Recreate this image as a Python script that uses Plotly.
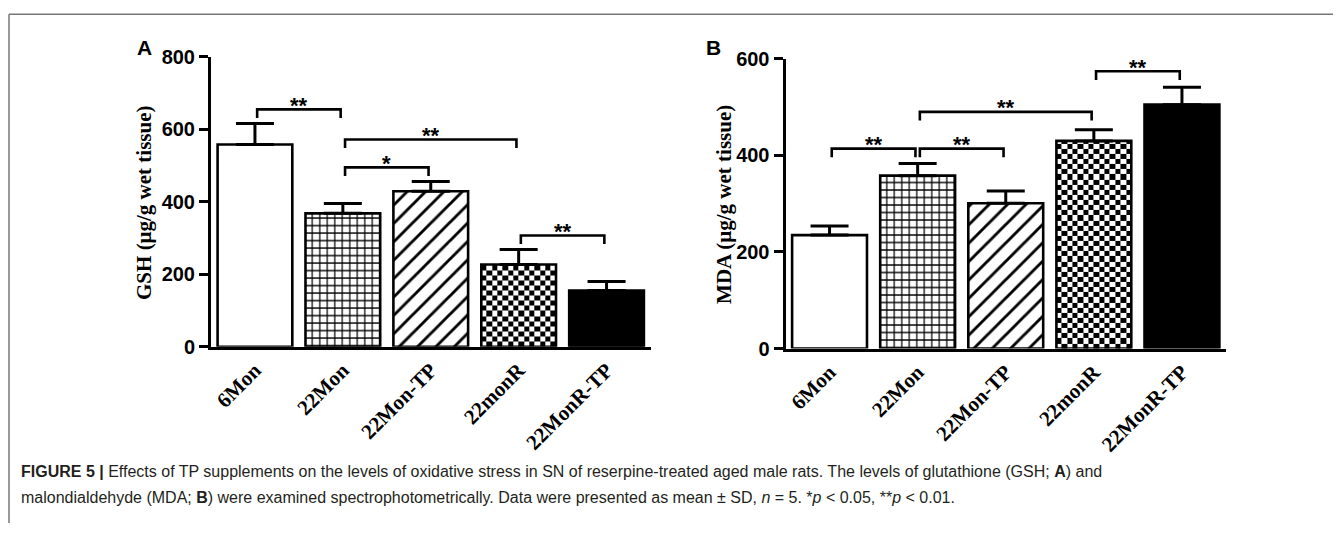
import plotly.graph_objects as go

# ---------------- data ----------------
categories = ["6Mon", "22Mon", "22Mon-TP", "22monR", "22MonR-TP"]
gsh_mean = [558, 368, 429, 227, 155]
gsh_sd = [58, 27, 27, 41, 25]
mda_mean = [235, 358, 301, 430, 505]
mda_sd = [19, 25, 25, 23, 36]
gsh_ticks = [0, 200, 400, 600, 800]
mda_ticks = [0, 200, 400, 600]
# (group a, group b, bracket level, label)
gsh_brackets = [(0, 1, 655, "**"), (1, 3, 572, "**"), (1, 2, 495, "*"), (3, 4, 307, "**")]
mda_brackets = [(0, 1, 414, "**"), (1, 2, 414, "**"), (1, 3, 490, "**"), (3, 4, 574, "**")]

# ---------------- layout constants (page pixels) ----------------
OFF = 8                      # default body margin of the html page
W, H = 1341 - 2 * OFF, 542 - 2 * OFF   # keep the page free of scrollbars
BAR_W = 0.85
A_dom_px = (211, 650.5, 47.5, 350)    # x0, x1, ytop, ybottom in page px
B_dom_px = (785.5, 1226, 49.5, 352)


def px(x):
    return (x - OFF) / W


def py(y):
    return 1 - (y - OFF) / H


def xdom(d):
    return [px(d[0]), px(d[1])]


def ydom(d):
    return [py(d[3]), py(d[2])]


fig = go.Figure()

fill_colors = ["white", "white", "white", "rgba(0,0,0,0)", "black"]
pat_shapes = ["", "+", "/", "", ""]
pat_sizes = [8, 7.5, 13, 8, 8]
pat_solid = [0.3, 0.3, 0.22, 0.3, 0.3]


def add_panel(means, sds, brackets, ymax, dom, xa, ya):
    px_per_x = (dom[1] - dom[0]) / len(categories)
    px_per_y = (dom[3] - dom[2]) / ymax
    # checkerboard texture for the 22monR bar
    i = 3
    ncols = 14
    cell_px = BAR_W * px_per_x / ncols
    cell_h = cell_px / px_per_y
    x_edges = [i - BAR_W / 2 + k * BAR_W / ncols for k in range(ncols + 1)]
    y_edges = [0.0]
    while y_edges[-1] + cell_h < means[i]:
        y_edges.append(y_edges[-1] + cell_h)
    y_edges.append(means[i])
    z = [[(r + c) % 2 for c in range(ncols)] for r in range(len(y_edges) - 1)]
    fig.add_trace(go.Heatmap(x=x_edges, y=y_edges, z=z, zmin=0, zmax=1,
                             colorscale=[[0, "white"], [1, "black"]], showscale=False,
                             hoverinfo="skip", xaxis=xa, yaxis=ya))
    for k, cat in enumerate(categories):
        marker = dict(color=fill_colors[k], line=dict(color="black", width=2.6))
        if pat_shapes[k]:
            marker["pattern"] = dict(shape=pat_shapes[k], size=pat_sizes[k],
                                     solidity=pat_solid[k], fgcolor="black",
                                     bgcolor="white", fillmode="replace")
        fig.add_trace(go.Bar(
            x=[k], y=[means[k]], width=BAR_W, xaxis=xa, yaxis=ya, name=cat,
            marker=marker,
            error_y=dict(type="data", array=[sds[k]], arrayminus=[0], symmetric=False,
                         color="black", thickness=3, width=19),
            showlegend=False))
    drop = 9 / px_per_y
    inset = 0.025
    bx, by = [], []
    for a, b, lvl, lab in brackets:
        bx += [a + inset, a + inset, b - inset, b - inset, None]
        by += [lvl - drop, lvl, lvl, lvl - drop, None]
        fig.add_annotation(x=(a + b) / 2, y=lvl, xref=xa, yref=ya, text=lab,
                           showarrow=False, yanchor="middle", yshift=4,
                           font=dict(family="Liberation Sans", size=22, color="black", weight="bold"))
    fig.add_trace(go.Scatter(x=bx, y=by, mode="lines", line=dict(color="black", width=2.6),
                             xaxis=xa, yaxis=ya, showlegend=False, hoverinfo="skip"))


add_panel(gsh_mean, gsh_sd, gsh_brackets, 800, A_dom_px, "x", "y")
add_panel(mda_mean, mda_sd, mda_brackets, 600, B_dom_px, "x2", "y2")

xcommon = dict(range=[-0.5, 4.5], tickvals=list(range(len(categories))), ticktext=categories,
               tickangle=-45, showline=True, linewidth=3, linecolor="black", ticks="",
               showgrid=False, zeroline=False, fixedrange=True,
               tickfont=dict(family="Liberation Serif", size=21, color="black", weight="bold"))
ycommon = dict(showline=True, linewidth=3, linecolor="black", ticks="outside", ticklen=9,
               tickwidth=3, tickcolor="black", showgrid=False, zeroline=False,
               tickfont=dict(family="Liberation Sans", size=20, color="black", weight="bold"))

fig.update_layout(
    width=W, height=H, margin=dict(l=0, r=0, t=0, b=0),
    paper_bgcolor="white", plot_bgcolor="white", showlegend=False, barmode="overlay",
    xaxis=dict(domain=xdom(A_dom_px), anchor="y", **xcommon),
    yaxis=dict(domain=ydom(A_dom_px), anchor="x", range=[0, 800], tickvals=gsh_ticks, **ycommon),
    xaxis2=dict(domain=xdom(B_dom_px), anchor="y2", **xcommon),
    yaxis2=dict(domain=ydom(B_dom_px), anchor="x2", range=[0, 600], tickvals=mda_ticks, **ycommon),
)

# y-axis titles
fig.add_annotation(x=px(144), y=py(200), xref="paper", yref="paper", textangle=-90,
                   text="GSH (μg/g wet tissue)", showarrow=False, xanchor="center", yanchor="middle",
                   font=dict(family="Liberation Serif", size=21, color="black", weight="bold"))
fig.add_annotation(x=px(724), y=py(202), xref="paper", yref="paper", textangle=-90,
                   text="MDA (μg/g wet tissue)", showarrow=False, xanchor="center", yanchor="middle",
                   font=dict(family="Liberation Serif", size=21, color="black", weight="bold"))
# panel letters
for lab, xx in (("A", 144), ("B", 713)):
    fig.add_annotation(x=px(xx), y=py(38), xref="paper", yref="paper", text=lab,
                       showarrow=False, xanchor="center", yanchor="middle",
                       font=dict(family="Liberation Sans", size=21, color="black", weight="bold"))

# caption
cap_font = dict(family="Liberation Sans", size=16, color="#231f20")
line1 = ("<b>FIGURE 5 |</b> Effects of TP supplements on the levels of oxidative stress in SN of "
         "reserpine-treated aged male rats. The levels of glutathione (GSH; <b>A</b>) and")
line2 = ("malondialdehyde (MDA; <b>B</b>) were examined spectrophotometrically. Data were presented "
         "as mean ± SD, <i>n</i> = 5. *<i>p</i> &lt; 0.05, **<i>p</i> &lt; 0.01.")
fig.add_annotation(x=px(19), y=py(480), xref="paper", yref="paper", text=line1, showarrow=False,
                   xanchor="left", yanchor="middle", font=cap_font)
fig.add_annotation(x=px(19), y=py(507), xref="paper", yref="paper", text=line2, showarrow=False,
                   xanchor="left", yanchor="middle", font=cap_font)

# frame lines
fig.add_shape(type="line", xref="paper", yref="paper", x0=px(9), x1=1, y0=py(3), y1=py(3),
              line=dict(color="#777777", width=1.5))
fig.add_shape(type="line", xref="paper", yref="paper", x0=px(9), x1=px(9), y0=0, y1=py(3),
              line=dict(color="#777777", width=1.5))

fig.write_html("out.html")
